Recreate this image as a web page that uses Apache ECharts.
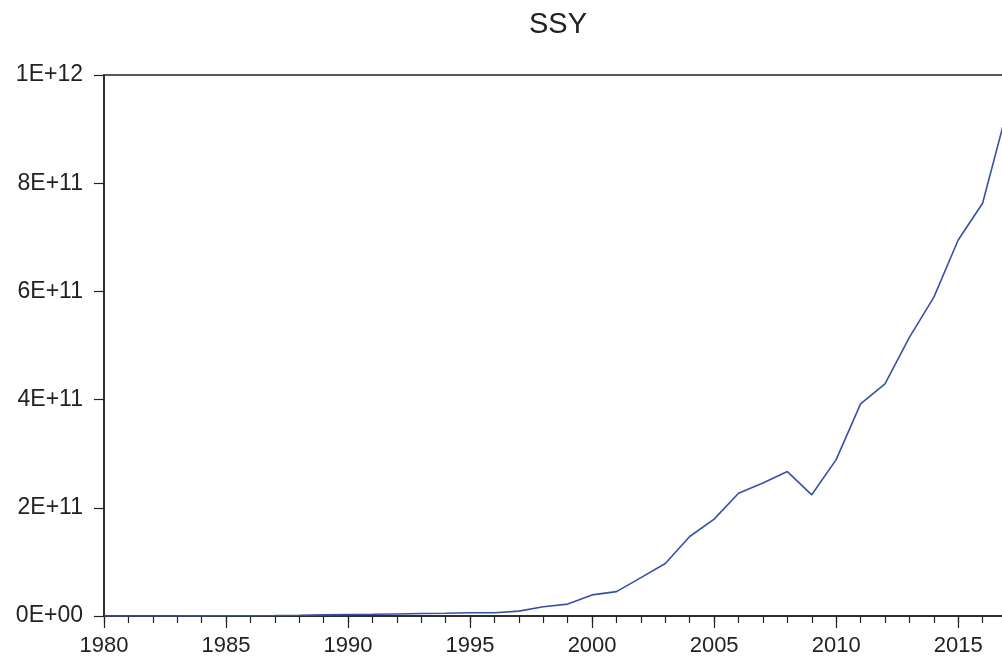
<!DOCTYPE html>
<html>
<head>
<meta charset="UTF-8">
<script src="https://cdn.jsdelivr.net/npm/echarts@6/dist/echarts.min.js"></script>
<style>
  body, html { margin: 0; padding: 0; background: #fff; overflow: hidden; }
  /* a bit wider than the window: the right side of the frame is cut off, like in the original */
  #main { width: 1007px; height: 664px; }
</style>
</head>
<body>
<div id="main"></div>
<script>
// SSY, billions (1E+09)
const years = [1980, 1981, 1982, 1983, 1984, 1985, 1986, 1987, 1988, 1989,
               1990, 1991, 1992, 1993, 1994, 1995, 1996, 1997, 1998, 1999,
               2000, 2001, 2002, 2003, 2004, 2005, 2006, 2007, 2008, 2009,
               2010, 2011, 2012, 2013, 2014, 2015, 2016, 2017];
const ssyBillions = [0.05, 0.07, 0.1, 0.15, 0.25, 0.4, 0.6, 0.9, 1.4, 2.1,
                     2.8, 3.2, 3.8, 4.5, 5, 6, 6, 9, 17, 22,
                     39, 45, 71, 97, 147, 179, 227, 246, 267, 224,
                     289, 392, 429, 515, 589, 695, 763, 934];
const yTicks = [0, 2e11, 4e11, 6e11, 8e11, 1e12];

const points = years.map((y, i) => [y, ssyBillions[i] * 1e9]);

function sci(v) {
  if (v === 0) return "0E+00";
  const e = Math.floor(Math.log10(v) + 1e-9);
  const m = Math.round(v / Math.pow(10, e));
  return m + "E+" + (e < 10 ? "0" + e : e);
}

const font = "'Liberation Sans', Arial, sans-serif";
const axisColor = "#222";

const chart = echarts.init(document.getElementById("main"), null, { renderer: "canvas" });
chart.setOption({
  animation: false,
  backgroundColor: "#fff",
  title: {
    text: "SSY",
    left: 553,
    top: 5,
    textAlign: "center",
    textStyle: { fontFamily: font, fontWeight: "normal", fontSize: 29, color: "#222" }
  },
  grid: {
    left: 104, top: 75, right: 0, bottom: 48,
    show: true, borderColor: axisColor, borderWidth: 1.5
  },
  xAxis: [
    {
      type: "value", min: 1980, max: 2017, interval: 1,
      axisLine: { show: true, lineStyle: { color: axisColor, width: 1.5 } },
      axisTick: { show: true, length: 7, lineStyle: { color: axisColor, width: 1.2 } },
      axisLabel: { show: false },
      splitLine: { show: false }
    },
    {
      type: "value", min: 1980, max: 2017, interval: 5, position: "bottom",
      axisLine: { show: false },
      axisTick: { show: true, length: 12, lineStyle: { color: axisColor, width: 1.2 } },
      axisLabel: {
        show: true, margin: 19, showMaxLabel: false,
        fontFamily: font, fontSize: 22, color: "#222",
        formatter: v => String(v)
      },
      splitLine: { show: false }
    }
  ],
  yAxis: {
    type: "value", min: yTicks[0], max: yTicks[yTicks.length - 1], interval: yTicks[1] - yTicks[0],
    axisLine: { show: true, lineStyle: { color: axisColor, width: 1.5 } },
    axisTick: { show: true, length: 10, lineStyle: { color: axisColor, width: 1.2 } },
    axisLabel: { margin: 21, fontFamily: font, fontSize: 23, color: "#222", formatter: sci },
    splitLine: { show: false }
  },
  series: [{
    type: "line",
    xAxisIndex: 0,
    data: points,
    symbol: "none",
    clip: true,
    lineStyle: { color: "#3552a8", width: 1.6 }
  }]
});
</script>
</body>
</html>
